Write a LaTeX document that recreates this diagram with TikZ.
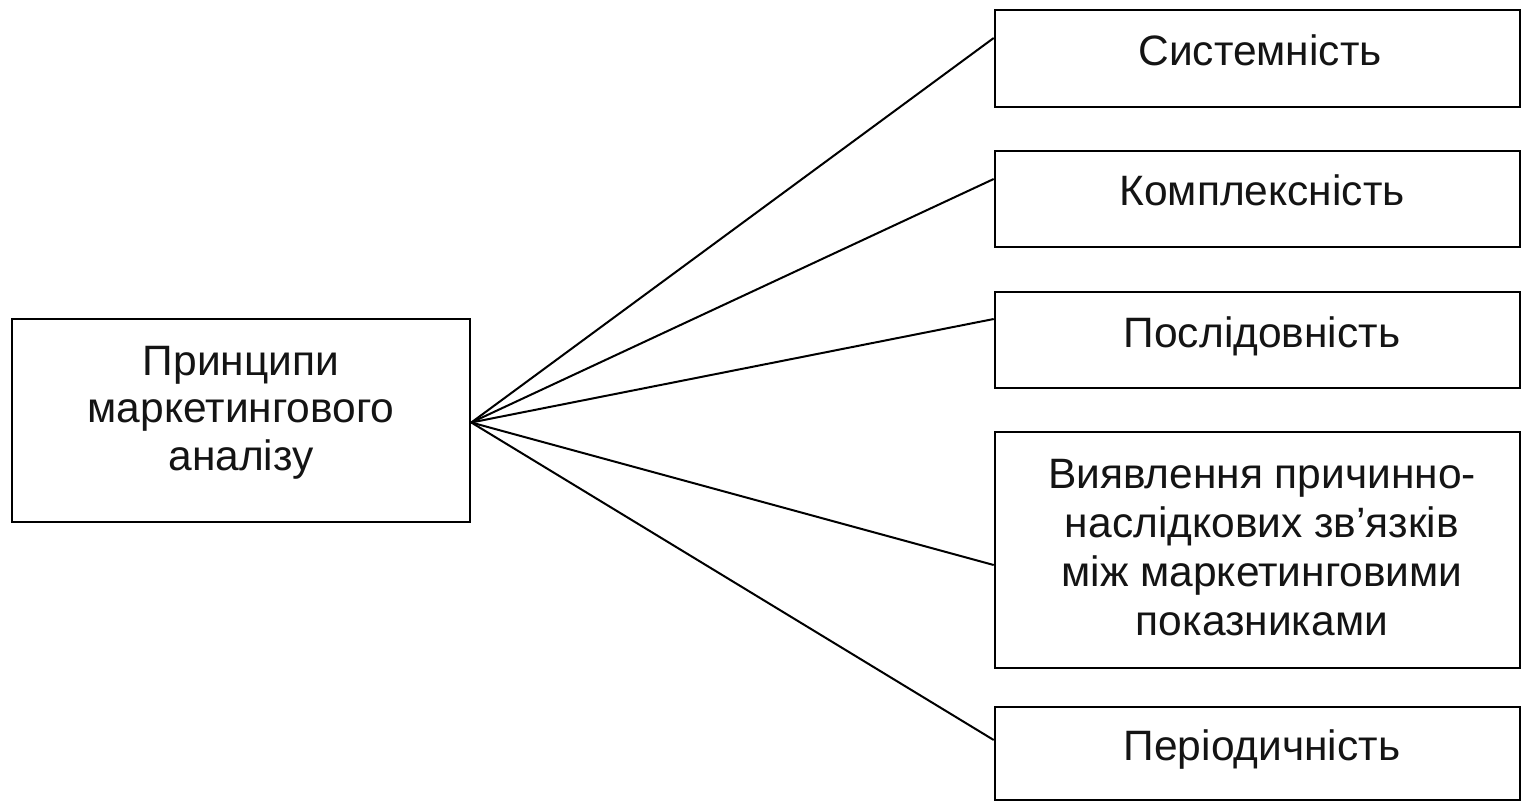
\documentclass[tikz,border=0pt]{standalone}
\usepackage{fontspec}
\setmainfont{Liberation Sans}
\begin{document}
\begin{tikzpicture}[x=1pt,y=-1pt,
  box/.style={draw=black, line width=2.6pt, fill=white, inner sep=0pt, minimum width=525pt},
  txt/.style={align=center, inner sep=0pt, text=black!92,
    font=\fontsize{42.5}{49}\selectfont},
  ltxt/.style={align=center, inner sep=0pt, text=black!92,
    font=\fontsize{42.5}{47.5}\selectfont},
  link/.style={draw=black, line width=2pt}]
\useasboundingbox (0,0) rectangle (1525,803);
% boxes
\node[box, minimum width=458pt, minimum height=203pt] (L) at (241,420.5) {};
\node[box, minimum height=97pt] (b1) at (1257.5,58.5) {};
\node[box, minimum height=96pt] (b2) at (1257.5,199) {};
\node[box, minimum height=96pt] (b3) at (1257.5,340) {};
\node[box, minimum height=236pt] (b4) at (1257.5,550) {};
\node[box, minimum height=93pt] (b5) at (1257.5,753.5) {};
% texts
\node[ltxt] (tL) at (241,413) {\strut Принципи\\\strut маркетингового\\\strut аналізу};
\node[txt] (t1) at (1260,55.2) {\strut Системність};
\node[txt] (t2) at (1262,195.2) {\strut Комплексність};
\node[txt] (t3) at (1262,337.2) {\strut Послідовність};
\node[txt] (t4) at (1262,551.7) {\strut Виявлення причинно-\\\strut наслідкових зв’язків\\\strut між маркетинговими\\\strut показниками};
\node[txt] (t5) at (1262,750.2) {\strut Періодичність};
% connectors
\coordinate (hub) at ([yshift=-2pt]L.east);
\draw[link] (hub) -- ([yshift=20.5pt]b1.west);
\draw[link] (hub) -- ([yshift=20pt]b2.west);
\draw[link] (hub) -- ([yshift=21pt]b3.west);
\draw[link] (hub) -- ([yshift=-15pt]b4.west);
\draw[link] (hub) -- ([yshift=13.5pt]b5.west);
\end{tikzpicture}
\end{document}
